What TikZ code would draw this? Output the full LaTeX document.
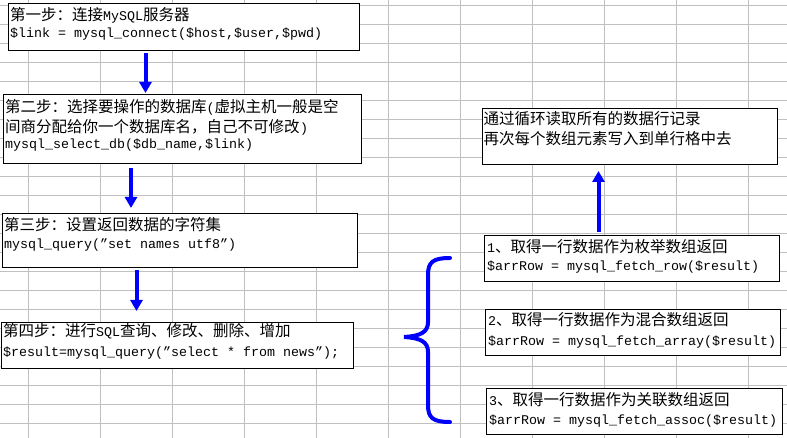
\documentclass[tikz,border=0pt]{standalone}
\usepackage{fontspec}
\setmonofont{Liberation Mono}
\newfontfamily\cjkfont{Noto Sans CJK SC}
\newcommand{\zhtxt}[1]{{\cjkfont\fontsize{15.5}{20}\selectfont #1}}
\usetikzlibrary{arrows.meta}
\definecolor{gridc}{HTML}{C0C0C0}
\begin{document}
\begin{tikzpicture}[x=1pt,y=-1pt,
  gridline/.style={draw=gridc, line width=1pt},
  box/.style={draw=black, fill=white, line width=1pt, inner sep=0pt, anchor=north west},
  txt/.style={inner sep=0pt, anchor=base west, font=\ttfamily\fontsize{13.33}{16}\selectfont},
  arr/.style={draw=blue, line width=4pt, -{Triangle[width=12pt,length=11pt]}},
  brace/.style={draw=blue, line width=4pt, line cap=round}
]
\useasboundingbox[fill=white] (0,0) rectangle (787,438);
% spreadsheet grid
\foreach \i in {0,...,10} \draw[gridline] ({28.3+72*\i},0) -- ({28.3+72*\i},438);
\foreach \j in {0,...,22} \draw[gridline] (0,{5.3+19*\j}) -- (787,{5.3+19*\j});

% boxes
\node[box, minimum width=351, minimum height=47] (b1) at (8,3) {};
\node[box, minimum width=358, minimum height=69] (b2) at (3,94) {};
\node[box, minimum width=355, minimum height=54] (b3) at (2,213) {};
\node[box, minimum width=352, minimum height=46] (b4) at (1,322) {};
\node[box, minimum width=295, minimum height=56] (b5) at (482,108) {};
\node[box, minimum width=295, minimum height=46] (b6) at (484,235) {};
\node[box, minimum width=295, minimum height=46] (b7) at (485,309) {};
\node[box, minimum width=296, minimum height=46] (b8) at (486,388) {};

% texts
\node[txt] (t1a) at (10,20.5) {\zhtxt{第一步：连接}MySQL\zhtxt{服务器}};
\node[txt] (t1b) at (10,38) {\$link = mysql\_connect(\$host,\$user,\$pwd)};

\node[txt] (t2a) at (5,112.5) {\zhtxt{第二步：选择要操作的数据库}(\zhtxt{虚拟主机一般是空}};
\node[txt] (t2b) at (5,132.5) {\zhtxt{间商分配给你一个数据库名，自己不可修改}};
\node[txt] (t2b2) at (t2b.base east) [anchor=base west] {)};
\node[txt] (t2c) at (5,148.5) {mysql\_select\_db(\$db\_name,\$link)};

\node[txt] (t3a) at (4,231) {\zhtxt{第三步：设置返回数据的字符集}};
\node[txt] (t3b) at (4,248.5) {mysql\_query(”set names utf8”)};

\node[txt] (t4a) at (3,337) {\zhtxt{第四步：进行}SQL\zhtxt{查询、修改、删除、增加}};
\node[txt] (t4b) at (3,356.5) {\$result=mysql\_query(”select * from news”);};

\node[txt] (t5a) at (483.5,124.5) {\zhtxt{通过循环读取所有的数据行记录}};
\node[txt] (t5b) at (483.5,144.5) {\zhtxt{再次每个数组元素写入到单行格中去}};

\node[txt] (t6a) at (487,253) {1\zhtxt{、取得一行数据作为枚举数组返回}};
\node[txt] (t6b) at (487,270.5) {\$arrRow = mysql\_fetch\_row(\$result)};

\node[txt] (t7a) at (488,326) {2\zhtxt{、取得一行数据作为混合数组返回}};
\node[txt] (t7b) at (488,345) {\$arrRow = mysql\_fetch\_array(\$result)};

\node[txt] (t8a) at (489,405.5) {3\zhtxt{、取得一行数据作为关联数组返回}};
\node[txt] (t8b) at (489,424) {\$arrRow = mysql\_fetch\_assoc(\$result)};

% arrows
\draw[arr, shorten <=2pt, shorten >=1pt] (145.5,0 |- b1.south) -- (145.5,0 |- b2.north);
\draw[arr, shorten <=4pt, shorten >=5pt] (131,0 |- b2.south) -- (131,0 |- b3.north);
\draw[arr, shorten <=2pt, shorten >=11pt] (136.5,0 |- b3.south) -- (136.5,0 |- b4.north);
\draw[arr, shorten <=3pt, shorten >=6pt] (598.5,0 |- b6.north) -- (598.5,0 |- b5.south);

% brace
\draw[brace] (450,258) .. controls (433,258) and (428,262) .. (428,275)
  -- (428,322) .. controls (428,332) and (421,336) .. (404,337)
  .. controls (421,338) and (428,342) .. (428,352)
  -- (428,405) .. controls (428,418) and (433,422) .. (450,422);
\end{tikzpicture}
\end{document}
